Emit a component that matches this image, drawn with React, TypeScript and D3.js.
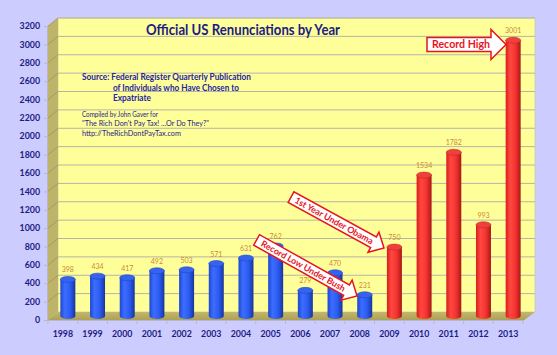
import React from "react";
import * as d3 from "d3";

const years = ["1998","1999","2000","2001","2002","2003","2004","2005","2006","2007","2008","2009","2010","2011","2012","2013"];
const renunciations = [398,434,417,492,503,571,631,762,279,470,231,750,1534,1782,993,3001];
const obamaYears = ["2009","2010","2011","2012","2013"];
const yTicks = d3.range(0, 3201, 200);

const title = "Official US Renunciations by Year";
const sourceLines = ["Source:  Federal Register Quarterly Publication", "of Individuals who Have Chosen to", "Expatriate"];
const creditLines = ["Compiled by John Gaver for", "\"The Rich Don't Pay Tax! ...Or Do They?\"", "http://TheRichDontPayTax.com"];

const W = 557, H = 355;
const FONT = "Lato, 'Open Sans', sans-serif";
const NAVY = "#1c1c84";
const DX = 10, DY = -8; // depth offset of the 3D box

export default function App() {
  const x = d3.scaleBand<string>().domain(years).range([48, 523]).paddingInner(0).paddingOuter(0);
  const y = d3.scaleLinear().domain([0, 3200]).range([320, 26]);
  const y0 = y(0);
  const barW = 15;
  const cap = 3;

  const arrow = (L: number, head: number, w: number, hw: number) =>
    `M0,0 L${-head},${-hw} L${-head},${-w} L${-L},${-w} L${-L},${w} L${-head},${w} L${-head},${hw} Z`;

  const arrows = [
    { tx: 506, ty: 44.5, ang: 0, L: 79, head: 15, w: 7, hw: 15, text: "Record High", fs: 11, len: 58 },
    { tx: 384, ty: 248, ang: 28.7, L: 106, head: 12, w: 6, hw: 11.5, text: "1st Year Under Obama", fs: 8.8, len: 88 },
    { tx: 357, ty: 296, ang: 29.2, L: 115, head: 12, w: 6, hw: 11.5, text: "Record Low Under Bush", fs: 8.8, len: 95 },
  ];

  const srcLayout = [
    { x: 82, y: 80, len: 169 },
    { x: 113, y: 90.5, len: 126 },
    { x: 113, y: 101, len: 38 },
  ];
  const creditLayout = [
    { x: 82, y: 116.5, len: 76 },
    { x: 82, y: 126, len: 127 },
    { x: 82, y: 135.5, len: 99 },
  ];

  return (
    <svg width={W} height={H} style={{ position: "absolute", left: 0, top: 0 }}>
      <defs>
        <linearGradient id="blueBody" x1="0" x2="1" y1="0" y2="0">
          <stop offset="0%" stopColor="#1d47d0" />
          <stop offset="30%" stopColor="#3d6dff" />
          <stop offset="65%" stopColor="#2b5cf2" />
          <stop offset="100%" stopColor="#1835a0" />
        </linearGradient>
        <linearGradient id="redBody" x1="0" x2="1" y1="0" y2="0">
          <stop offset="0%" stopColor="#d81e1e" />
          <stop offset="30%" stopColor="#ff4840" />
          <stop offset="65%" stopColor="#f53330" />
          <stop offset="100%" stopColor="#a81818" />
        </linearGradient>
        <linearGradient id="floorGrad" x1="0" x2="0" y1="0" y2="1">
          <stop offset="0%" stopColor="#c2b76a" />
          <stop offset="100%" stopColor="#a99e55" />
        </linearGradient>
      </defs>
      <rect x={0} y={0} width={W} height={H} fill="#ccccff" />

      {/* back wall */}
      <rect x={48 + DX} y={y(3200) + DY} width={535 - 58} height={y0 - y(3200)} fill="#ffff99" stroke="#c8c8b0" strokeWidth={0.8} />
      {/* side wall */}
      <polygon points={`48,${y(3200)} ${48 + DX},${y(3200) + DY} ${48 + DX},${y0 + DY} 48,${y0}`} fill="#bdb46a" />
      {/* floor */}
      <polygon points={`48,${y0} ${48 + DX},${y0 + DY} ${535},${y0 + DY} ${523},${y0 + 1}`} fill="url(#floorGrad)" />

      {/* gridlines */}
      {yTicks.filter(t => t > 0).map(t => (
        <g key={t}>
          <line x1={48 + DX} x2={535} y1={y(t) + DY} y2={y(t) + DY} stroke="#b4b4a8" strokeWidth={1} />
          <line x1={48} x2={48 + DX} y1={y(t)} y2={y(t) + DY} stroke="#9d9555" strokeWidth={0.8} />
        </g>
      ))}

      {/* axes */}
      <line x1={47.5} x2={47.5} y1={y(3200)} y2={y0} stroke="#b8b8c8" />
      <line x1={48} x2={523} y1={y0 + 0.5} y2={y0 + 0.5} stroke="#b8b8c8" />
      {yTicks.map(t => (
        <g key={t}>
          <line x1={44} x2={48} y1={y(t) + 0.5} y2={y(t) + 0.5} stroke="#b8b8c8" />
          <text x={40} y={y(t) + 3.2} textAnchor="end" fontFamily={FONT} fontWeight={700} fontSize={8.8} fill={NAVY}>{t}</text>
        </g>
      ))}
      {years.map((yr, i) => (
        <g key={yr}>
          <line x1={(x(yr) as number) + x.bandwidth()} x2={(x(yr) as number) + x.bandwidth()} y1={y0} y2={y0 + 4} stroke="#b8b8c8" />
          {i === 0 && <line x1={48} x2={48} y1={y0} y2={y0 + 4} stroke="#b8b8c8" />}
          <text x={(x(yr) as number) + x.bandwidth() / 2} y={337} textAnchor="middle" fontFamily={FONT} fontWeight={700} fontSize={8.8} fill={NAVY}>{yr}</text>
        </g>
      ))}

      {/* cylinders */}
      {years.map((yr, i) => {
        const v = renunciations[i];
        const cx = (x(yr) as number) + x.bandwidth() / 2 + DX / 2;
        const base = y0 + DY / 2;
        const top = y(v) + DY / 2;
        const red = obamaYears.includes(yr);
        return (
          <g key={yr}>
            <path
              d={`M${cx - barW / 2},${top} L${cx - barW / 2},${base} A${barW / 2},${cap} 0 0 0 ${cx + barW / 2},${base} L${cx + barW / 2},${top} Z`}
              fill={red ? "url(#redBody)" : "url(#blueBody)"}
            />
            <ellipse cx={cx} cy={top} rx={barW / 2} ry={cap} fill={red ? "#f0403a" : "#3563f0"} stroke={red ? "#c52626" : "#2147c0"} strokeWidth={0.6} />
            <text x={cx} y={top - 7} textAnchor="middle" fontFamily={FONT} fontSize={7} fill="#c98a3a">{v}</text>
          </g>
        );
      })}

      {/* title and notes */}
      <text x={146} y={34.5} textLength={194} lengthAdjust="spacingAndGlyphs" fontFamily={FONT} fontWeight={700} fontSize={14.5} fill={NAVY}>{title}</text>
      <g fontFamily={FONT} fontWeight={700} fontSize={8.7} fill="#2323a6">
        {sourceLines.map((s, i) => (
          <text key={i} x={srcLayout[i].x} y={srcLayout[i].y} textLength={srcLayout[i].len} lengthAdjust="spacingAndGlyphs">{s}</text>
        ))}
      </g>
      <g fontFamily={FONT} fontSize={7.4} fill="#24248a">
        {creditLines.map((s, i) => (
          <text key={i} x={creditLayout[i].x} y={creditLayout[i].y} textLength={creditLayout[i].len} lengthAdjust="spacingAndGlyphs">{s}</text>
        ))}
      </g>

      {/* callout arrows */}
      {arrows.map(a => (
        <g key={a.text} transform={`translate(${a.tx},${a.ty}) rotate(${a.ang})`}>
          <path d={arrow(a.L, a.head, a.w, a.hw)} fill="#ffffff" stroke="#e8141e" strokeWidth={1.5} strokeLinejoin="miter" />
          <text x={-a.L + (a.L - a.head + 4 - a.len) / 2} y={a.fs * 0.36} textLength={a.len} lengthAdjust="spacingAndGlyphs" fontFamily={FONT} fontWeight={700} fontSize={a.fs} fill="#e8141e">{a.text}</text>
        </g>
      ))}
    </svg>
  );
}
